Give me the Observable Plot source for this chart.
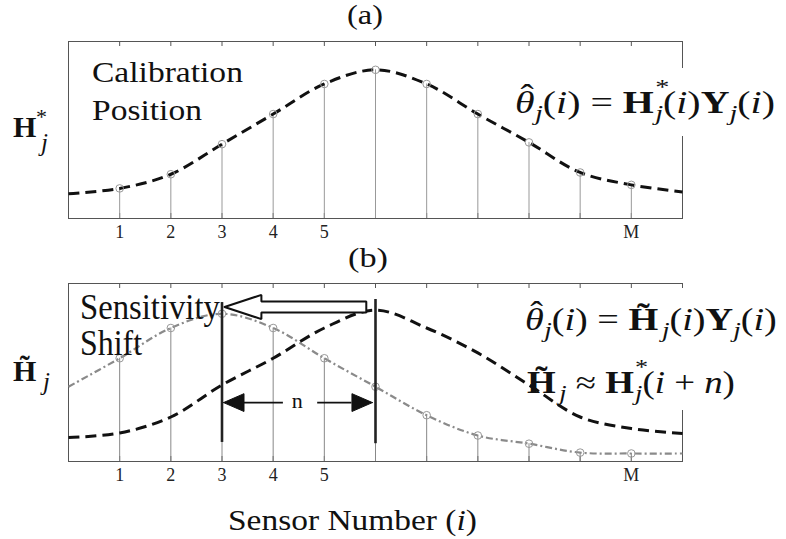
<!DOCTYPE html>
<html><head><meta charset="utf-8">
<script src="https://cdn.jsdelivr.net/npm/d3@7"></script>
<script src="https://cdn.jsdelivr.net/npm/@observablehq/plot@0.6"></script>
<style>
html,body{margin:0;padding:0;background:#fff;}
#wrap{position:relative;width:786px;height:539px;overflow:hidden;background:#fff;}
#wrap svg{display:block;}
#wrap svg text, #wrap svg tspan{font-family:"Liberation Serif","Times New Roman",serif;}
</style></head><body><div id="wrap"></div>
<script>
// ---------- data ----------
const sensors = [1,2,3,4,5,6,7,8,9,10,11];
const tickLabels = ["1","2","3","4","5","","","","","","M"];
const curveX = [0,1,2,3,4,5,6,7,8,9,10,11,12];
const calibCurveA = [0.14,0.17,0.25,0.42,0.59,0.76,0.84,0.76,0.59,0.43,0.26,0.19,0.15];
const calibCurveB = [0.135,0.16,0.25,0.43,0.58,0.75,0.85,0.75,0.61,0.43,0.25,0.185,0.157];
const shiftedCurveB = [0.42,0.58,0.75,0.83,0.75,0.58,0.42,0.26,0.146,0.10,0.05,0.045,0.045];
const shiftFrom = 6, shiftTo = 3;
const shiftLines = [{x:3,y1:0.107,y2:0.893},{x:6,y1:0.10,y2:0.91}];
const nArrowY = 0.331;
const arrowY = 0.868;

// ---------- helpers ----------
const FONT = "Liberation Serif, Times New Roman, serif";
const rows = (xs, ys) => xs.map((x, k) => ({x, v: ys[k]}));
const atSensors = (ys) => sensors.map(i => ({x: i, v: ys[curveX.indexOf(i)]}));

function rich(parts, {x, y, w = 0, size = 30, anchor = "start", box = null}) {
  return () => {
    const g = d3.create("svg:g");
    if (box) g.append("rect").attr("x", box[0]).attr("y", box[1]).attr("width", box[2]).attr("height", box[3]).attr("fill", "white");
    const tg = g.append("g").attr("class", "rt")
      .attr("data-x", x).attr("data-y", y).attr("data-w", w).attr("data-anchor", anchor)
      .attr("transform", `translate(${x},${y})`);
    const t = tg.append("text").attr("font-size", size).attr("text-anchor", anchor).attr("fill", "#111");
    for (const p of parts) {
      const s = t.append("tspan").text(p.t);
      if (p.i) s.attr("font-style", "italic");
      if (p.b) s.attr("font-weight", "bold");
      if (p.s) s.attr("font-size", p.s);
      if (p.x != null) s.attr("x", p.x);
      s.attr("y", p.y ?? 0);
      if (p.dx) s.attr("dx", p.dx);
    }
    return g.node();
  };
}

function frameMarks(fh) {
  return [
    Plot.frame({stroke: "#555", strokeWidth: 1}),
    Plot.ruleX(sensors, {x: d => d, insetBottom: fh - 5, stroke: "#555", strokeWidth: 1}),
    Plot.ruleX(sensors, {x: d => d, insetTop: fh - 5, stroke: "#555", strokeWidth: 1})
  ];
}

const xScale = {
  domain: [0, 12], ticks: sensors,
  tickFormat: d => tickLabels[sensors.indexOf(d)],
  tickSize: 0, tickPadding: 7, label: null
};
const baseStyle = {fontFamily: FONT, fontSize: "18px", color: "#222", background: "white", overflow: "visible"};

const SUB = 22;
const jSub = (extra = {}) => ({t: "j", i: true, s: SUB, y: 7, ...extra});
const parenI = [{t: "(", y: 0}, {t: "i", i: true}, {t: ")"}];
const thetaHat = [{t: "θ", i: true}, {t: "ˆ", dx: -11, y: -7}];

// ---------- panel (a) ----------
const hA = 244, mtA = 41, mbA = 26;
const ptsA = atSensors(calibCurveA);
const plotA = Plot.plot({
  width: 786, height: hA,
  marginTop: mtA, marginBottom: mbA, marginLeft: 68, marginRight: 104,
  x: xScale,
  y: {domain: [0, 1], axis: null},
  style: baseStyle,
  marks: [
    ...frameMarks(hA - mtA - mbA),
    Plot.ruleX(ptsA, {x: "x", y1: 0, y2: "v", stroke: "#999", strokeWidth: 1}),
    rich([...thetaHat, jSub({dx: 1}), ...parenI, {t: " = "}, {t: "H", b: true},
          {t: "*", s: SUB, y: -19, dx: 1}, jSub({dx: -11}), ...parenI, {t: "Y", b: true}, jSub(), ...parenI],
         {x: 515, y: 113, w: 260, size: 31, box: [506, 68, 276, 68]}),
    Plot.line(rows(curveX, calibCurveA), {x: "x", y: "v", curve: "catmull-rom", stroke: "#111",
      strokeWidth: 3, strokeDasharray: "11,6", strokeLinecap: "butt"}),
    Plot.dot(ptsA, {x: "x", y: "v", r: 3.8, stroke: "#999", strokeWidth: 1, fill: "none"}),
    rich([{t: "Calibration"}], {x: 92, y: 82, w: 151}),
    rich([{t: "Position"}], {x: 92, y: 120, w: 110}),
    rich([{t: "(a)"}], {x: 365, y: 24, w: 36, size: 28, anchor: "middle"}),
    rich([{t: "H", b: true, x: 0}, {t: "*", s: SUB, x: 23, y: -13}, {t: "j", i: true, s: 25, x: 28, y: 14}],
         {x: 13, y: 137})
  ]
});

// ---------- panel (b) ----------
const hB = 295, mtB = 39, mbB = 78;
const ptsB = atSensors(shiftedCurveB);
// hollow "sensitivity shift" arrow polygon (tip at shiftTo, tail near shiftFrom)
const tipX = shiftTo + 0.05, headX = tipX + 0.72, tailX = shiftFrom - 0.18;
const headH = 0.068, shaftH = 0.031;
const bigArrow = [
  [tipX, arrowY], [headX, arrowY + headH], [headX, arrowY + shaftH], [tailX, arrowY + shaftH],
  [tailX, arrowY - shaftH], [headX, arrowY - shaftH], [headX, arrowY - headH], [tipX, arrowY]
].map(([x, v]) => ({x, v}));
// "n" double arrow
const nMid = (shiftFrom + shiftTo) / 2;
const nHeadL = 0.4, nHeadH = 0.05, nGap = 0.3;
const nHeads = [
  {z: "L", x: shiftTo + 0.03, v: nArrowY}, {z: "L", x: shiftTo + 0.03 + nHeadL, v: nArrowY + nHeadH},
  {z: "L", x: shiftTo + 0.03 + nHeadL, v: nArrowY - nHeadH}, {z: "L", x: shiftTo + 0.03, v: nArrowY},
  {z: "R", x: shiftFrom - 0.06, v: nArrowY}, {z: "R", x: shiftFrom - 0.06 - nHeadL, v: nArrowY + nHeadH},
  {z: "R", x: shiftFrom - 0.06 - nHeadL, v: nArrowY - nHeadH}, {z: "R", x: shiftFrom - 0.06, v: nArrowY}
];
const nShafts = [
  {x1: shiftTo + 0.03 + nHeadL, x2: nMid - nGap, v: nArrowY},
  {x1: nMid + nGap + 0.07, x2: shiftFrom - 0.06 - nHeadL, v: nArrowY}
];

const plotB = Plot.plot({
  width: 786, height: hB,
  marginTop: mtB, marginBottom: mbB, marginLeft: 68, marginRight: 104,
  x: xScale,
  y: {domain: [0, 1], axis: null},
  style: baseStyle,
  marks: [
    ...frameMarks(hB - mtB - mbB),
    Plot.ruleX(ptsB, {x: "x", y1: 0, y2: "v", stroke: "#888", strokeWidth: 1}),
    Plot.line(rows(curveX, shiftedCurveB), {x: "x", y: "v", curve: "catmull-rom", stroke: "#8a8a8a",
      strokeWidth: 2.2, strokeDasharray: "7,3,2,3", strokeLinecap: "butt"}),
    Plot.dot(ptsB, {x: "x", y: "v", r: 3.8, stroke: "#999", strokeWidth: 1, fill: "none"}),
    rich([{t: "Sensitivity"}], {x: 80, y: 75, w: 140, size: 36}),
    rich([{t: "Shift"}], {x: 80, y: 111, w: 62, size: 36}),
    rich([...thetaHat, jSub({dx: 1}), ...parenI, {t: " = "}, {t: "H\u0303", b: true},
          jSub({dx: 3}), ...parenI, {t: "Y", b: true}, jSub(), ...parenI],
         {x: 525, y: 86, w: 252, size: 31, box: [518, 44, 264, 122]}),
    rich([{t: "H\u0303", b: true}, jSub({dx: 3}), {t: " ≈ ", y: 0}, {t: "H", b: true},
          {t: "*", s: SUB, y: -19, dx: 1}, jSub({dx: -11}), {t: "(", y: 0}, {t: "i", i: true}, {t: " + "},
          {t: "n", i: true}, {t: ")"}],
         {x: 527, y: 149, w: 208, size: 31}),
    Plot.line(rows(curveX, calibCurveB), {x: "x", y: "v", curve: "catmull-rom", stroke: "#111",
      strokeWidth: 3, strokeDasharray: "11,6", strokeLinecap: "butt"}),
    Plot.ruleX(shiftLines, {x: "x", y1: "y1", y2: "y2", stroke: "#222", strokeWidth: 2.6}),
    Plot.line(bigArrow, {x: "x", y: "v", fill: "white", stroke: "#111", strokeWidth: 2, strokeLinejoin: "miter"}),
    Plot.ruleY(nShafts, {x1: "x1", x2: "x2", y: "v", stroke: "#111", strokeWidth: 1.6}),
    Plot.line(nHeads, {x: "x", y: "v", z: "z", fill: "#111", stroke: "#111", strokeWidth: 1}),
    Plot.text([{x: nMid - 0.03, v: nArrowY}], {x: "x", y: "v", text: () => "n", fontSize: 22,
      fill: "#111", dy: -2}),
    rich([{t: "(b)"}], {x: 368, y: 23, w: 40, size: 28, anchor: "middle"}),
    rich([{t: "H\u0303", b: true, x: 0}, {t: "j", i: true, s: 25, x: 30, y: 9}], {x: 13, y: 137}),
    rich([{t: "Sensor Number ("}, {t: "i", i: true}, {t: ")"}], {x: 228, y: 286, w: 249, size: 29})
  ]
});

const wrap = document.getElementById("wrap");
plotA.style.position = "absolute"; plotA.style.left = "0px"; plotA.style.top = "0px";
plotB.style.position = "absolute"; plotB.style.left = "0px"; plotB.style.top = hA + "px";
wrap.appendChild(plotA);
wrap.appendChild(plotB);

// stretch rich texts horizontally to the measured widths of the reference
document.querySelectorAll("g.rt").forEach(g => {
  const w = +g.dataset.w; if (!w) return;
  const bb = g.getBBox();
  if (!bb.width) return;
  const sx = w / bb.width;
  const x = +g.dataset.x, y = +g.dataset.y;
  if (g.dataset.anchor === "middle") g.setAttribute("transform", `translate(${x},${y}) scale(${sx},1)`);
  else g.setAttribute("transform", `translate(${x - bb.x * sx},${y}) scale(${sx},1)`);
});
</script>
</body></html>
